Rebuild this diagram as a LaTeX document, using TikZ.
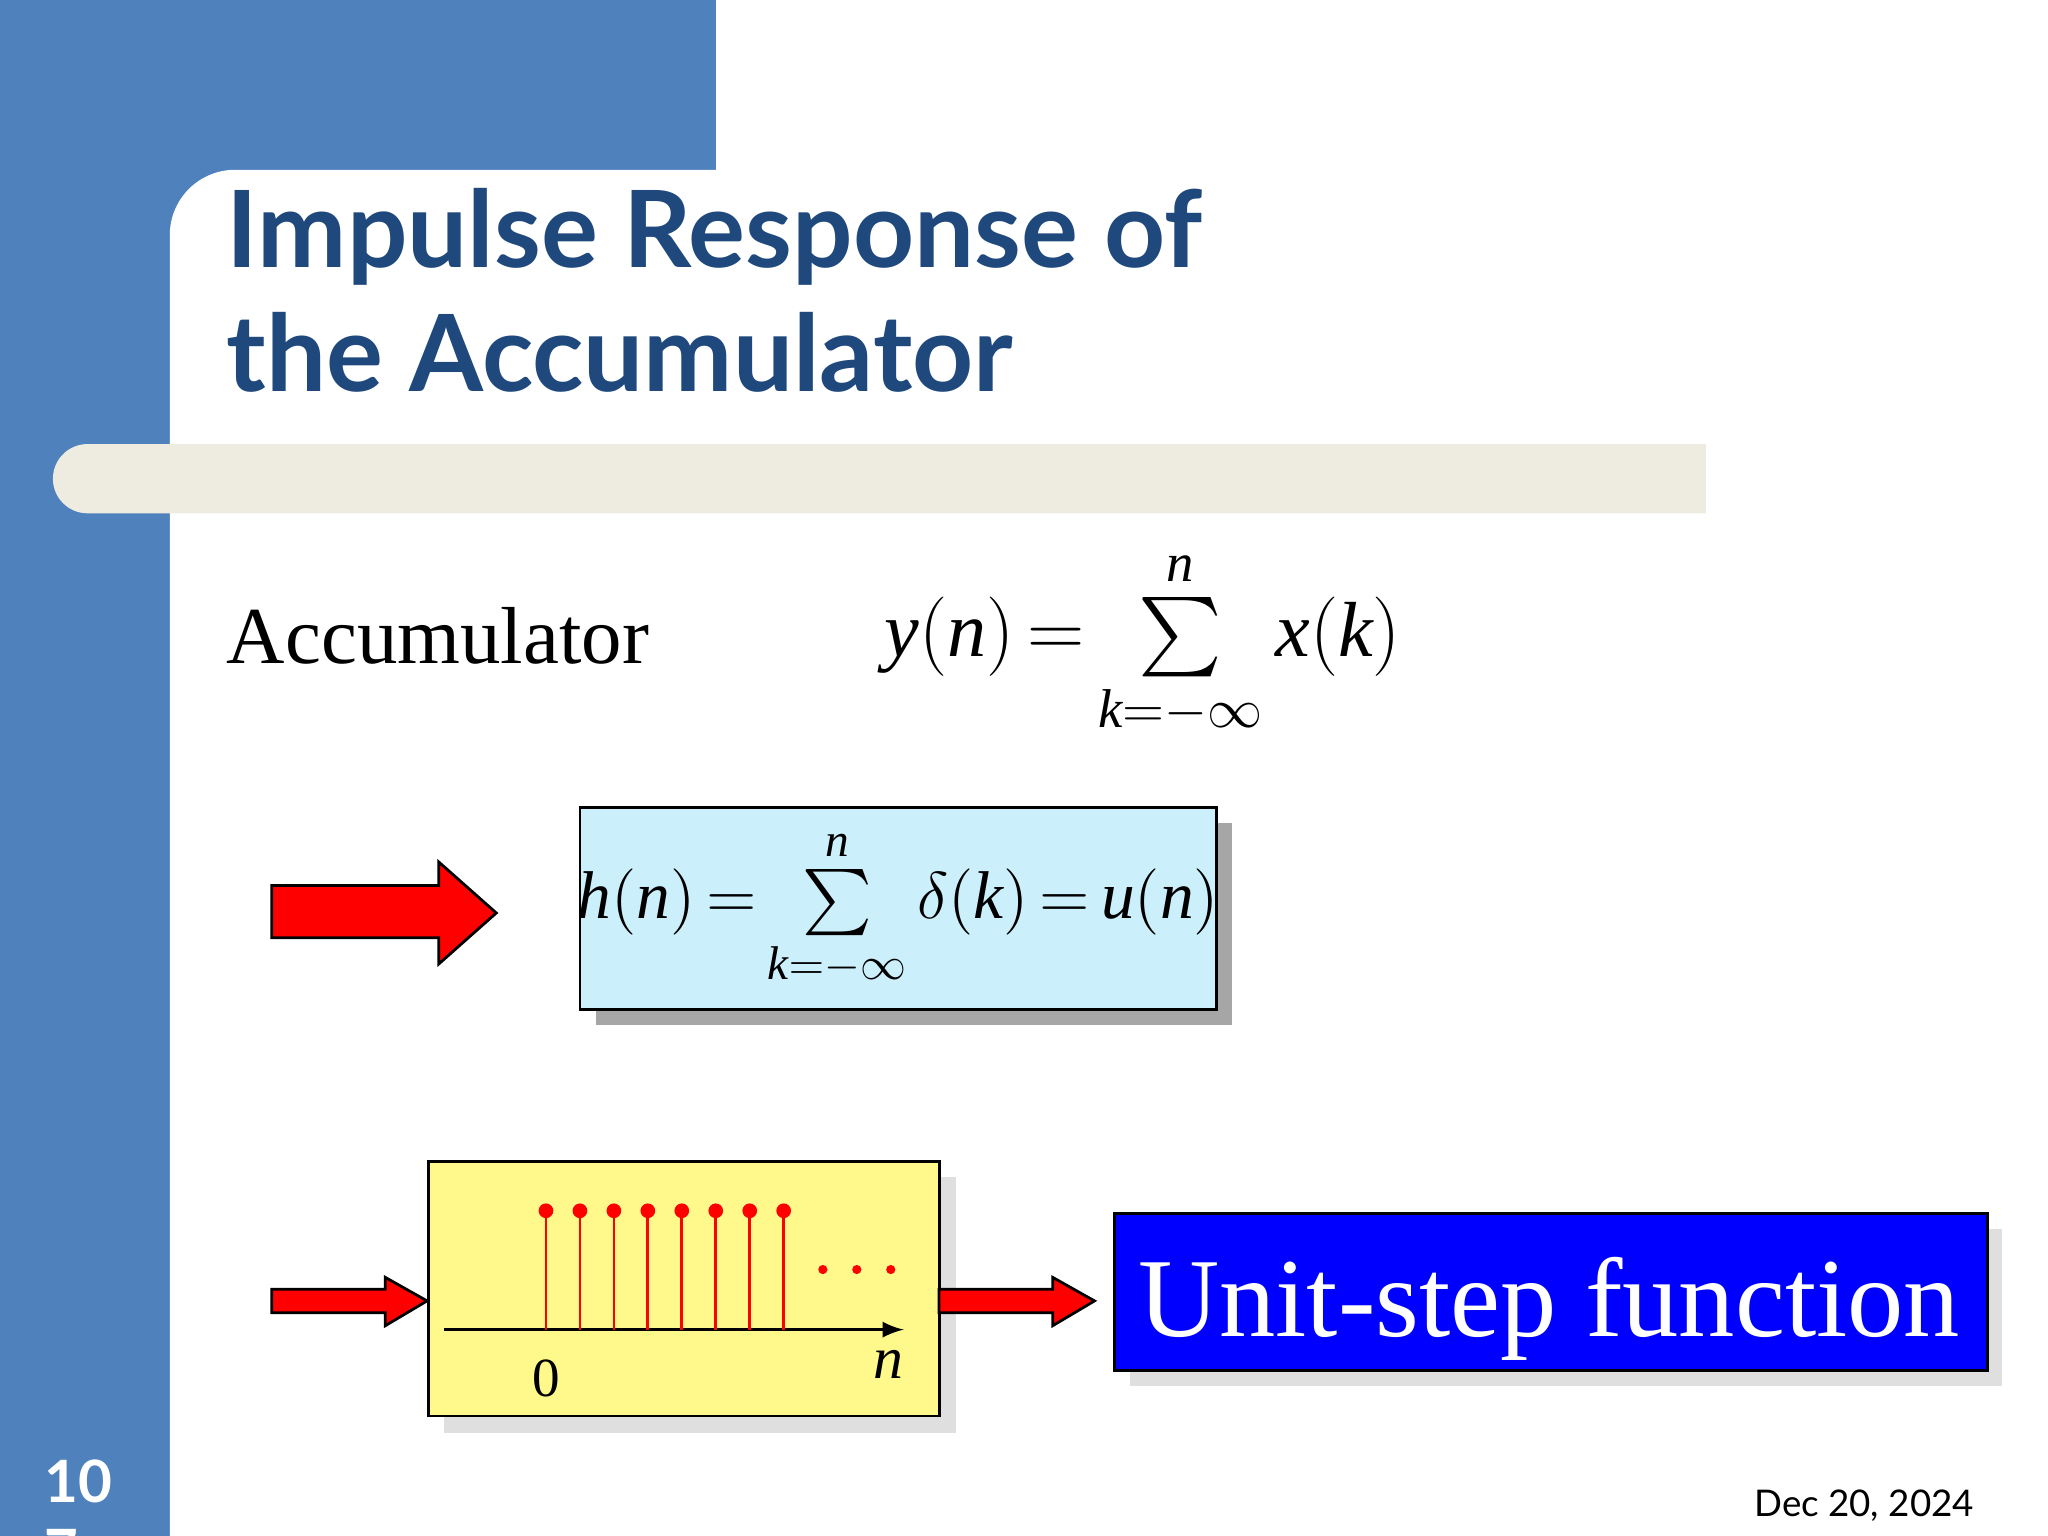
\documentclass[tikz,border=0pt]{standalone}
\usepackage{fontspec}
\usepackage{amsmath}
\setmainfont{Liberation Serif}
\newfontfamily\titlefont{Lato}
\definecolor{band}{HTML}{4F81BD}
\definecolor{ttl}{HTML}{1F497D}
\definecolor{beige}{HTML}{EEECE1}
\newcommand{\vi}[1]{\textit{#1}}
\newcommand{\tight}{\thickmuskip=3mu\medmuskip=0mu}
\tikzset{
  redarrow/.style={fill=red, draw=black, line width=0.6pt},
  stem/.style={red, line width=0.6pt},
  dot/.style={circle, fill=red, inner sep=0pt, minimum size=3.2pt},
  shadowbox/.style={fill=gray!70, draw=none}
}
\begin{document}
\begin{tikzpicture}[x=0.01cm,y=-0.01cm]
\useasboundingbox (0,0) rectangle (1568,1176);
\clip (0,0) rectangle (1568,1176);
\fill[white] (0,0) rectangle (1568,1176);
\fill[band] (0,0) rectangle (548,130);
\fill[band] (0,0) rectangle (130,1176);
\fill[band] (130,130) rectangle (180,180);
\fill[white] (130,1176) -- (130,180) arc[start angle=180,end angle=270,radius=50] -- (548,130) -- (1568,130) -- (1568,1176) -- cycle;
\fill[beige] (67,340) -- (1306,340) -- (1306,393) -- (67,393) arc[start angle=90,end angle=270,radius=26.5] -- cycle;
% title
\node[anchor=base west, text=ttl, font=\titlefont\bfseries\fontsize{23.2}{28}\selectfont, inner sep=0] (t1) at (173,205) {Impulse Response of};
\node[anchor=base west, text=ttl, font=\titlefont\bfseries\fontsize{23.2}{28}\selectfont, inner sep=0] (t2) at (173,300) {the Accumulator};
% accumulator
\node[anchor=base west, font=\fontsize{17.6}{22}\selectfont, inner sep=0] (acc) at (173,508) {Accumulator};
\node[font=\fontsize{17}{22}\selectfont] (eq1) at (875,493) {$\tight\vi{y}(\vi{n})=\sum\limits_{\vi{k}=-\infty}^{\vi{n}}\vi{x}(\vi{k})$};
% big arrow
\draw[redarrow] (208,678) -- (336,678) -- (336,660) -- (380,699) -- (336,738) -- (336,718) -- (208,718) -- cycle;
% cyan box
\fill[shadowbox] (456,630) rectangle (943,785);
\node[draw=black, fill=cyan!20, minimum width=4.87cm, minimum height=1.55cm, anchor=north west, inner sep=0, line width=0.6pt] (hbox) at (443,617) {};
\node[font=\fontsize{14.7}{19}\selectfont] (eq2) at (hbox.center) {$\tight\vi{h}(\vi{n})=\sum\limits_{\vi{k}=-\infty}^{\vi{n}}\delta(\vi{k})=\vi{u}(\vi{n})$};
% yellow box
\fill[shadowbox,fill=gray!25] (340,901) rectangle (732,1097);
\node[draw=black, fill=yellow!45, minimum width=3.91cm, minimum height=1.95cm, anchor=north west, inner sep=0, line width=0.6pt] (ybox) at (327,888) {};
\coordinate (ax0) at (340,1018);
\coordinate (ax1) at (692,1018);
\draw[-latex, line width=0.6pt] (ax0) -- (ax1);
\foreach \i in {0,...,7}{
  \draw[stem] (418+26*\i,1018) -- (418+26*\i,927);
  \node[dot] (d\i) at (418+26*\i,927) {};
}
\foreach \i in {0,1,2}{\node[dot,minimum size=2pt] (e\i) at (630+26*\i,972) {};}
\node[font=\fontsize{12}{14}\selectfont] (zero) at (418,1055) {0};
\node[font=\itshape\fontsize{13}{15}\selectfont] (nn) at (680,1045) {n};
% small arrows
\draw[redarrow] (208,987) -- (295,987) -- (295,978) -- (327,996) -- (295,1015) -- (295,1005) -- (208,1005) -- cycle;
\draw[redarrow] (719,987) -- (806,987) -- (806,978) -- (838,996) -- (806,1015) -- (806,1005) -- (719,1005) -- cycle;
% blue box
\fill[shadowbox,fill=gray!25] (865,941) rectangle (1533,1061);
\node[draw=black, fill=blue, minimum width=6.68cm, minimum height=1.2cm, anchor=north west, inner sep=0, line width=0.6pt] (ubox) at (852,928) {};
\node[text=white, font=\fontsize{24.5}{30}\selectfont, anchor=base] (ulab) at (1186,1023) {Unit-step function};
% page number and date
\node[text=white, font=\titlefont\bfseries\fontsize{12.7}{15}\selectfont, anchor=base] (pn) at (60,1150) {10};
\node[text=white, font=\titlefont\bfseries\fontsize{12.7}{15}\selectfont, anchor=base] (pn2) at (47,1203) {7};
\node[font=\titlefont\fontsize{8}{10}\selectfont, anchor=base east, inner sep=0] (date) at (1512,1161) {Dec 20, 2024};
\end{tikzpicture}
\end{document}
